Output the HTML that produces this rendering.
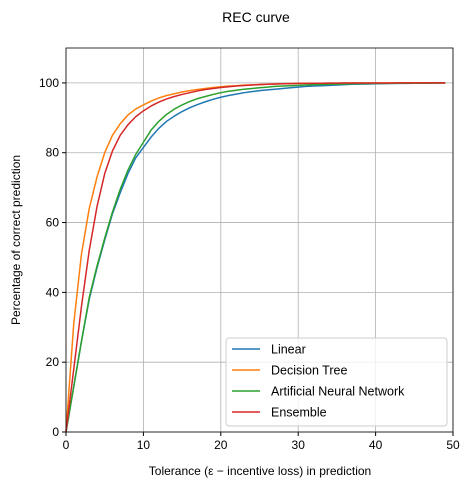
<!DOCTYPE html>
<html><head><meta charset="utf-8"><style>
body{margin:0;background:#fff;}
svg{font-family:"Liberation Sans","DejaVu Sans",sans-serif;}
</style></head><body>
<svg id="c" width="472" height="490"></svg>
<script>
const xs=[0,1,2,3,4,5,6,7,8,9,10,11,12,13,14,15,16,17,18,19,20,21,22,23,24,25,26,27,28,29,30,31,32,33,34,35,36,37,38,39,40,41,42,43,44,45,46,47,48,49];
const linear=[0,13,26,38,47,55,62.5,68.5,74,78.5,81.5,84.5,87,89,90.5,91.8,92.9,93.8,94.6,95.3,95.9,96.4,96.8,97.2,97.5,97.8,98,98.2,98.4,98.6,98.8,99,99.1,99.2,99.3,99.4,99.5,99.6,99.65,99.7,99.75,99.8,99.82,99.85,99.87,99.9,99.92,99.94,99.96,99.97];
const tree=[0,31,51,64,73,80,85,88.3,90.8,92.5,93.7,94.8,95.7,96.4,96.9,97.4,97.8,98.1,98.4,98.7,98.9,99.1,99.2,99.35,99.45,99.55,99.6,99.7,99.75,99.8,99.85,99.88,99.9,99.92,99.94,99.95,99.96,99.97,99.98,99.98,99.99,99.99,99.99,100,100,100,100,100,100,100];
const ann=[0,13,26,38.5,47.5,55.5,63,69.5,75,79.5,83,86.5,89,91,92.5,93.7,94.7,95.5,96.1,96.7,97.2,97.6,97.9,98.2,98.4,98.6,98.8,99,99.1,99.2,99.3,99.4,99.5,99.55,99.6,99.65,99.7,99.75,99.8,99.82,99.85,99.87,99.9,99.92,99.93,99.95,99.96,99.97,99.98,99.99];
const ens=[0,18,36,52,64.5,74,80.5,85,88,90.3,92,93.4,94.5,95.4,96.1,96.7,97.2,97.7,98.1,98.4,98.7,98.9,99.1,99.25,99.4,99.5,99.6,99.7,99.75,99.8,99.85,99.88,99.9,99.92,99.94,99.95,99.96,99.97,99.98,99.98,99.99,99.99,99.99,100,100,100,100,100,100,100];
const xticks=[0,10,20,30,40,50];
const yticks=[0,20,40,60,80,100];
const names=["Linear","Decision Tree","Artificial Neural Network","Ensemble"];
const colors=["#1f77b4","#ff7f0e","#2ca02c","#d62728"];
const series=[linear,tree,ann,ens];
const L=66,R=453,T=48,B=432;
const sx=v=>L+(v/50)*(R-L), sy=v=>B-(v/110)*(B-T);
const s=document.getElementById('c');const NS="http://www.w3.org/2000/svg";
function mk(t,a,p){const e=document.createElementNS(NS,t);for(const k in a)e.setAttribute(k,a[k]);(p||s).appendChild(e);return e;}
let e;
e=mk('text',{x:256,y:22,'text-anchor':'middle','font-size':14});e.textContent="REC curve";


xticks.forEach(v=>{
 e=mk('line',{x1:sx(v),x2:sx(v),y1:T,y2:B,stroke:'#b0b0b0','stroke-width':0.8});
 
 
 mk('line',{x1:sx(v),x2:sx(v),y1:B,y2:B+4,stroke:'#000'});
 e=mk('text',{x:sx(v),y:B+17,'text-anchor':'middle','font-size':12});e.textContent=v;
 
 
});
yticks.forEach(v=>{
 e=mk('line',{x1:L,x2:R,y1:sy(v),y2:sy(v),stroke:'#b0b0b0','stroke-width':0.8});
 
 
 mk('line',{x1:L-4,x2:L,y1:sy(v),y2:sy(v),stroke:'#000'});
 e=mk('text',{x:L-7,y:sy(v)+4,'text-anchor':'end','font-size':12});e.textContent=v;
 
 
});
series.forEach((d,i)=>{
 e=mk('polyline',{points:xs.map((x,j)=>sx(x)+','+sy(d[j])).join(' '),fill:'none',stroke:colors[i],'stroke-width':1.5,'stroke-linejoin':'round'});
 
 
});
e=mk('rect',{x:L,y:T,width:R-L,height:B-T,fill:'none',stroke:'#000','stroke-width':0.8});


e=mk('text',{x:260,y:475,'text-anchor':'middle','font-size':12});e.textContent="Tolerance (\u03b5 \u2212 incentive loss) in prediction";


e=mk('text',{x:0,y:0,'text-anchor':'middle','font-size':12,transform:'translate(20,240) rotate(-90)'});e.textContent="Percentage of correct prediction";


const lg=mk('g',{});


mk('rect',{x:226,y:338,width:221,height:88,rx:3,fill:'#fff','fill-opacity':0.8,stroke:'#ccc'},lg);
names.forEach((n,i)=>{
 const y=349+i*21;
 mk('line',{x1:232,x2:260,y1:y,y2:y,stroke:colors[i],'stroke-width':1.5},lg);
 e=mk('text',{x:271,y:y+4.5,'font-size':12.5},lg);e.textContent=n;
 
 
});
</script>
</body></html>
